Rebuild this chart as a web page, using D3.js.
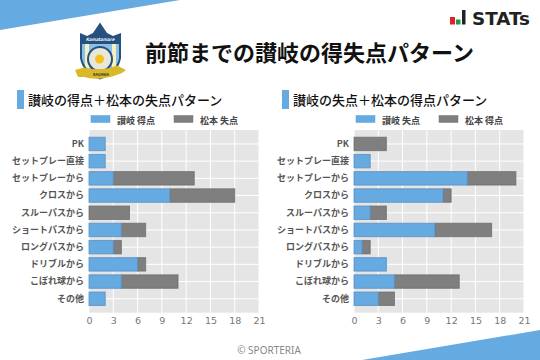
<!DOCTYPE html>
<html><head><meta charset="utf-8">
<script src="https://cdn.jsdelivr.net/npm/d3@7"></script>
<style>html,body{margin:0;padding:0;background:#fff}svg{display:block}text{font-family:"Noto Sans CJK JP","Noto Sans",sans-serif}</style>
</head><body><svg id="c" width="540" height="360"></svg>
<script>
const categories=["PK","セットプレー直接","セットプレーから","クロスから","スルーパスから","ショートパスから","ロングパスから","ドリブルから","こぼれ球から","その他"];
const xTicks=[0,3,6,9,12,15,18,21];
const leftBlue=[2,2,3,10,0,4,3,6,4,2];
const leftGrey=[0,0,10,8,5,3,1,1,7,0];
const rightBlue=[0,2,14,11,2,10,1,4,5,3];
const rightGrey=[4,0,6,1,2,7,1,0,8,2];
const mainTitle="前節までの讃岐の得失点パターン";
const leftTitle="讃岐の得点＋松本の失点パターン";
const rightTitle="讃岐の失点＋松本の得点パターン";
const leftLegend=["讃岐 得点","松本 失点"];
const rightLegend=["讃岐 失点","松本 得点"];
const BLUE="#66aae2",GREY="#7f7f7f";
const svg=d3.select("#c");
svg.append("polygon").attr("points","0,0 180,0 0,30").attr("fill",BLUE);
svg.append("polygon").attr("points","540,330 540,360 362,360").attr("fill",BLUE);
// Emblem
const e=svg.append("g");
e.append("path").attr("d","M80,33 L87,36 L93,33 L100,22.5 L107,33 L113,36 L121,33 L121,58 Q119,72 100,79.5 Q82,72 80,58 Z").attr("fill","#25507f");
e.append("path").attr("d","M82,44 L119,44 L119,58 Q117,70 100,77 Q84,70 82,58 Z").attr("fill","#8cc0e8");
e.append("path").attr("d","M85,44 L89,44 L89,70 L85,66 Z").attr("fill","#f6f2c0");
e.append("path").attr("d","M112,44 L116,44 L116,66 L112,70 Z").attr("fill","#f6f2c0");
e.append("circle").attr("cx",100).attr("cy",59).attr("r",13).attr("fill","#25507f");
e.append("circle").attr("cx",100).attr("cy",59).attr("r",11).attr("fill","#e8e8da");
e.append("circle").attr("cx",99.5).attr("cy",59).attr("r",4.5).attr("fill","#f2c320");
e.append("path").attr("d","M75,70 L84,67.5 Q100,72 117,65.5 L126,70 L122,73 Q100,82 84,77 L78,77 Z").attr("fill","#d9b92a");
e.append("text").attr("x",100).attr("y",41).attr("text-anchor","middle").attr("font-size",4.5).attr("font-style","italic").attr("font-weight",700).attr("fill","#fff").text("Kamatamare");
e.append("text").attr("x",101).attr("y",76).attr("text-anchor","middle").attr("font-size",3.8).attr("font-weight",700).attr("fill","#333").text("KAGAWA");
// Header
svg.append("text").attr("x",145).attr("y",61).attr("font-size",22).attr("font-weight",700).attr("fill","#111").text(mainTitle);
// STATs logo
const lg=svg.append("g");
lg.append("rect").attr("x",450).attr("y",17).attr("width",5).attr("height",7.5).attr("fill","#e0202a");
lg.append("rect").attr("x",456).attr("y",19.5).attr("width",4.5).attr("height",5).attr("fill","#1f9a4a");
lg.append("rect").attr("x",462).attr("y",10).attr("width",3.5).attr("height",14.5).attr("fill","#222");
lg.append("text").attr("x",472).attr("y",24.5).style("font-family","'DejaVu Sans',sans-serif").attr("font-size",18).attr("font-weight",700).attr("fill","#222").attr("textLength",58).attr("lengthAdjust","spacingAndGlyphs").text("STATs");
// Footer
svg.append("text").attr("x",269).attr("y",354).attr("text-anchor","middle").style("font-family","'Noto Sans',sans-serif").attr("font-size",10).attr("fill","#888").text("© SPORTERIA");

function panel(x0,x1,title,legend,blue,grey){
  const top=130,bottom=312.7;
  const x=d3.scaleLinear().domain([0,21]).range([x0,x1]);
  const y=d3.scaleBand().domain(categories).range([top,bottom]).paddingInner(0.16).paddingOuter(0.39);
  const g=svg.append("g");
  g.append("rect").attr("x",x0-72).attr("y",90).attr("width",7).attr("height",19).attr("fill",BLUE);
  g.append("text").attr("x",x0-61).attr("y",105).attr("font-size",13).attr("font-weight",500).attr("fill","#111").text(title);
  const lx=[x0+2,x0+85];
  legend.forEach((t,i)=>{
    g.append("rect").attr("x",lx[i]).attr("y",115.5).attr("width",19).attr("height",7).attr("fill",i?GREY:BLUE).attr("stroke",i?"#777":"#5f9fd4").attr("stroke-width",.5);
    g.append("text").attr("x",lx[i]+26).attr("y",123.5).attr("font-size",9).attr("font-weight",700).attr("fill","#444").text(t);
  });
  g.append("rect").attr("x",x0).attr("y",top).attr("width",x1-x0).attr("height",bottom-top).attr("fill","#e5e5e5");
  g.append("g").selectAll("line").data(xTicks).join("line").attr("x1",d=>x(d)).attr("x2",d=>x(d)).attr("y1",top).attr("y2",bottom).attr("stroke","#fff").attr("stroke-width",1);
  g.append("g").selectAll("line").data(categories).join("line").attr("x1",x0).attr("x2",x1).attr("y1",d=>y(d)+y.bandwidth()/2).attr("y2",d=>y(d)+y.bandwidth()/2).attr("stroke","#fff").attr("stroke-width",1);
  categories.forEach((c,i)=>{
    const b=blue[i],s=grey[i];
    if(s>0) g.append("rect").attr("x",x(b)).attr("y",y(c)+.5).attr("width",x(b+s)-x(b)).attr("height",y.bandwidth()-1).attr("fill",GREY).attr("stroke","#666").attr("stroke-opacity",.7);
    if(b>0) g.append("rect").attr("x",x(0)).attr("y",y(c)+.5).attr("width",x(b)-x(0)).attr("height",y.bandwidth()-1).attr("fill",BLUE).attr("stroke","#5a8fc0").attr("stroke-opacity",.8);
  });
  const ax=d3.axisBottom(x).tickValues(xTicks).tickSize(0).tickPadding(5);
  const axg=g.append("g").attr("transform",`translate(0,${bottom})`).call(ax);
  axg.select(".domain").remove();
  axg.selectAll("text").attr("fill","#777").style("font-family","'DejaVu Sans',sans-serif").attr("font-size",9.5);
  const ay=d3.axisLeft(y).tickSize(0).tickPadding(5);
  const ayg=g.append("g").attr("transform",`translate(${x0},0)`).call(ay);
  ayg.select(".domain").remove();
  ayg.selectAll("text").attr("font-size",9).attr("font-weight",700).attr("fill","#555");
}
panel(89,259,leftTitle,leftLegend,leftBlue,leftGrey);
panel(354,524,rightTitle,rightLegend,rightBlue,rightGrey);
</script></body></html>
